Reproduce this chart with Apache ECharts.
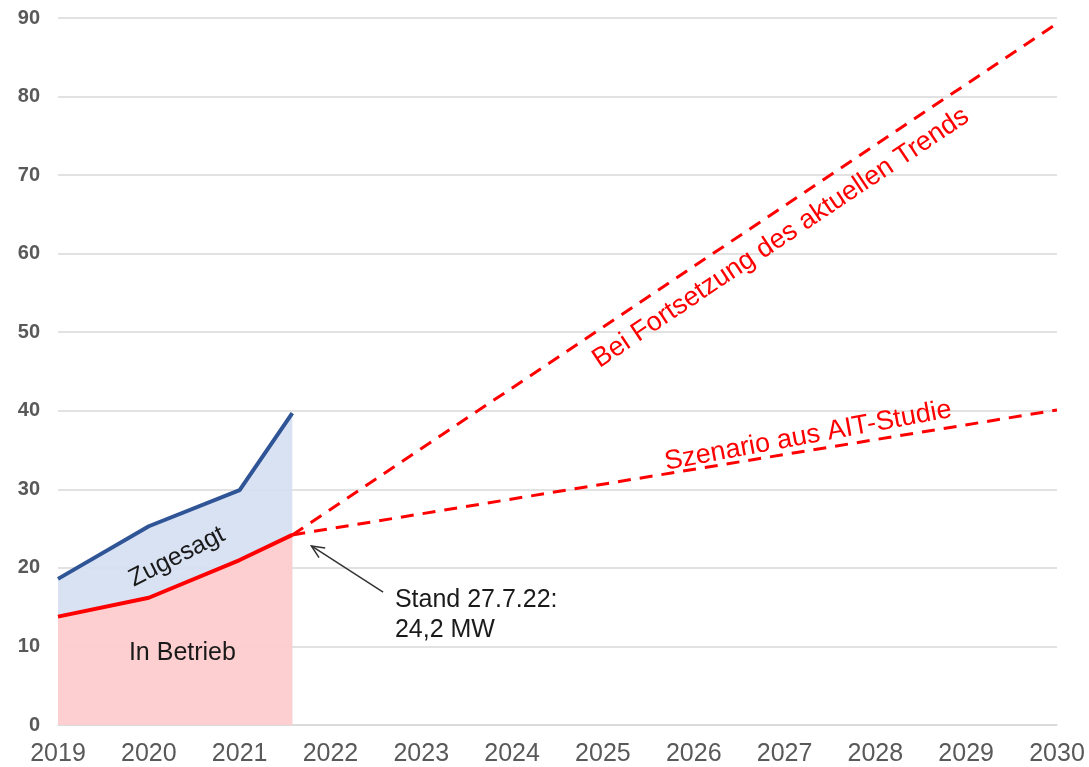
<!DOCTYPE html>
<html>
<head>
<meta charset="utf-8">
<script src="https://cdn.jsdelivr.net/npm/echarts@6/dist/echarts.min.js"></script>
<style>html,body{margin:0;padding:0;background:#fff}#c{width:1089px;height:767px}</style>
</head>
<body>
<div id="c"></div>
<script>
// Data
const zugesagt = [[2019, 18.6], [2020, 25.3], [2021, 29.9], [2021.58, 39.7]];
const inBetrieb = [[2019, 13.8], [2020, 16.2], [2021, 21.0], [2021.58, 24.2]];
const trendLine = [[2021.58, 24.2], [2030, 89.3]];
const aitLine = [[2021.58, 24.2], [2030, 40.1]];
const xTicks = [2019, 2020, 2021, 2022, 2023, 2024, 2025, 2026, 2027, 2028, 2029, 2030];
const yTicks = [0, 10, 20, 30, 40, 50, 60, 70, 80, 90];

const FONT = '"Liberation Sans", Arial, sans-serif';
const chart = echarts.init(document.getElementById('c'), null, {renderer: 'canvas'});
chart.setOption({
  animation: false,
  grid: {left: 58, right: 32, top: 18, bottom: 42, containLabel: false},
  xAxis: {
    type: 'value', min: xTicks[0], max: xTicks[xTicks.length - 1], interval: 1,
    axisLine: {show: true, lineStyle: {color: '#d9d9d9', width: 1.5}},
    axisTick: {show: false},
    splitLine: {show: false},
    axisLabel: {color: '#595959', fontSize: 25, fontFamily: FONT, margin: 17, formatter: v => String(v)}
  },
  yAxis: {
    type: 'value', min: yTicks[0], max: yTicks[yTicks.length - 1], interval: 10,
    axisLine: {show: false}, axisTick: {show: false},
    splitLine: {lineStyle: {color: '#d9d9d9', width: 1.5}},
    axisLabel: {color: '#595959', fontSize: 20, fontWeight: 'bold', fontFamily: FONT, margin: 18}
  },
  series: [
    {type: 'line', data: zugesagt, symbol: 'none', z: 2,
     lineStyle: {color: '#2F5597', width: 4},
     areaStyle: {color: 'rgb(214,224,242)', opacity: 0.92}},
    {type: 'line', data: inBetrieb, symbol: 'none', z: 3,
     lineStyle: {color: '#FF0000', width: 4},
     areaStyle: {color: 'rgb(255,205,205)', opacity: 0.95}},
    {type: 'line', data: trendLine, symbol: 'none', z: 4,
     lineStyle: {color: '#FF0000', width: 3, type: [13, 9]}},
    {type: 'line', data: aitLine, symbol: 'none', z: 4,
     lineStyle: {color: '#FF0000', width: 3, type: [13, 9]}}
  ]
});

function px(p) { return chart.convertToPixel({gridIndex: 0}, p); }
function angleOf(line) {
  const a = px(line[0]), b = px(line[1]);
  return Math.atan2(a[1] - b[1], b[0] - a[0]);
}
const zA = px([2020.31, 21.4]);
const bA = px([2020.37, 9.2]);
const sA = px([2022.71, 17.8]);
const tA = px([2026.96, 62.0]);
const aA = px([2027.26, 36.8]);
const arrTail = px([2022.58, 16.9]);
const arrHead = px([2021.79, 22.8]);
const ang = Math.atan2(arrTail[1] - arrHead[1], arrTail[0] - arrHead[0]);
const hl = 14, hw = 0.42;
const h1 = [arrHead[0] + hl * Math.cos(ang + hw), arrHead[1] + hl * Math.sin(ang + hw)];
const h2 = [arrHead[0] + hl * Math.cos(ang - hw), arrHead[1] + hl * Math.sin(ang - hw)];

chart.setOption({
  graphic: [
    {type: 'text', x: zA[0], y: zA[1], rotation: 27 * Math.PI / 180, z: 10,
     style: {text: 'Zugesagt', fill: '#1a1a1a', font: '25px ' + FONT, align: 'center', verticalAlign: 'middle'}},
    {type: 'text', x: bA[0], y: bA[1], z: 10,
     style: {text: 'In Betrieb', fill: '#1a1a1a', font: '25px ' + FONT, align: 'center', verticalAlign: 'middle'}},
    {type: 'text', x: sA[0], y: sA[1], z: 10,
     style: {text: 'Stand 27.7.22:\n24,2 MW', fill: '#1a1a1a', font: '25px ' + FONT, lineHeight: 30, align: 'left', verticalAlign: 'top'}},
    {type: 'text', x: tA[0], y: tA[1], rotation: angleOf(trendLine), z: 10,
     style: {text: 'Bei Fortsetzung des aktuellen Trends', fill: '#FF0000', font: '27px ' + FONT, align: 'center', verticalAlign: 'middle'}},
    {type: 'text', x: aA[0], y: aA[1], rotation: angleOf(aitLine) + 1.2 * Math.PI / 180, z: 10,
     style: {text: 'Szenario aus AIT-Studie', fill: '#FF0000', font: '27px ' + FONT, align: 'center', verticalAlign: 'middle'}},
    {type: 'polyline', z: 10, shape: {points: [arrTail, arrHead]}, style: {stroke: '#333', lineWidth: 1.5, fill: null}},
    {type: 'polyline', z: 10, shape: {points: [h1, arrHead, h2]}, style: {stroke: '#333', lineWidth: 1.5, fill: null}}
  ]
});
</script>
</body>
</html>
